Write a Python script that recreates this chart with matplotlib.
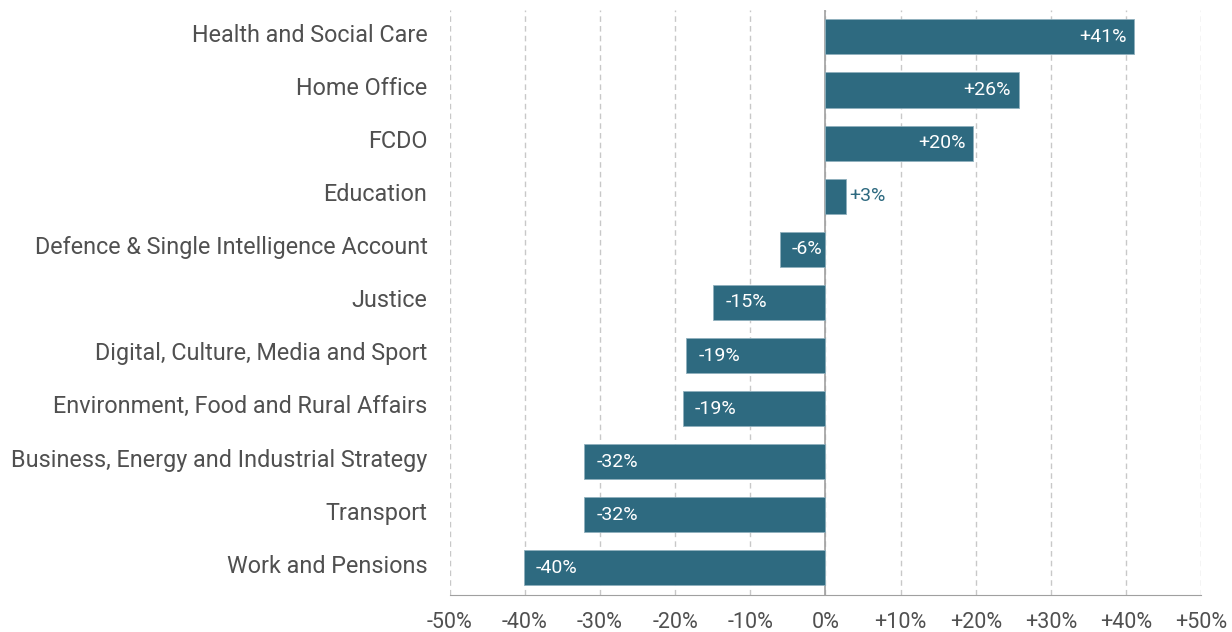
import matplotlib.pyplot as plt
import matplotlib.transforms as mtransforms
import numpy as np

departments = ['Health and Social Care', 'Home Office', 'FCDO', 'Education',
               'Defence & Single Intelligence Account', 'Justice',
               'Digital, Culture, Media and Sport', 'Environment, Food and Rural Affairs',
               'Business, Energy and Industrial Strategy', 'Transport', 'Work and Pensions']
change = [41.1, 25.7, 19.7, 2.8, -6.1, -14.9, -18.5, -19.0, -32.1, -32.1, -40.1]
labels = ['+41%', '+26%', '+20%', '+3%', '-6%', '-15%', '-19%', '-19%', '-32%', '-32%', '-40%']
ticks = [-50, -40, -30, -20, -10, 0, 10, 20, 30, 40, 50]
tick_labels = ['-50%', '-40%', '-30%', '-20%', '-10%', '0%', '+10%', '+20%', '+30%', '+40%', '+50%']

plt.rcParams['font.family'] = ['Roboto', 'DejaVu Sans']

bar_col = '#2e6a80'
txt_col = '#505050'

fig = plt.figure(figsize=(12.32, 6.32), dpi=100)
ax = fig.add_axes([0.365, 0.0585, 0.61, 0.926])

y = np.arange(len(departments))[::-1]
ax.barh(y, change, height=0.66, color=bar_col, edgecolor='#8fb0bd', linewidth=0.6, zorder=3)

for yi, v, lab in zip(y, change, labels):
    if v > 0 and v < 8:
        ax.text(v + 0.4, yi, lab, ha='left', va='center', color=bar_col, fontsize=14, zorder=4)
    elif v > 0:
        ax.text(v - 1.0, yi, lab, ha='right', va='center', color='white', fontsize=14, zorder=4)
    else:
        ax.text(v + 1.6, yi, lab, ha='left', va='center', color='white', fontsize=14, zorder=4)

ax.set_xlim(-50, 50)
ax.set_ylim(-0.51, 10.51)
ax.set_xticks(ticks)
ax.set_xticklabels(tick_labels, fontsize=15.5, color=txt_col)
ax.set_yticks(y)
ax.set_yticklabels(departments, fontsize=16.8, color=txt_col)
ax.tick_params(axis='y', length=0, pad=16)
ax.tick_params(axis='x', length=0, pad=12)
shift = mtransforms.ScaledTranslation(0, 3 / 72, fig.dpi_scale_trans)
for t in ax.get_yticklabels():
    t.set_transform(t.get_transform() + shift)

ax.grid(axis='x', linestyle=(0, (4, 3)), color='#c8c8c8', linewidth=1, zorder=0)
ax.axvline(0, color='#a0a0a0', linewidth=1.2, zorder=2)
for s in ['top', 'right', 'left']:
    ax.spines[s].set_visible(False)
ax.spines['bottom'].set_color('#a0a0a0')
ax.spines['bottom'].set_bounds(-50, 50)

plt.savefig('out.png', dpi=100)
